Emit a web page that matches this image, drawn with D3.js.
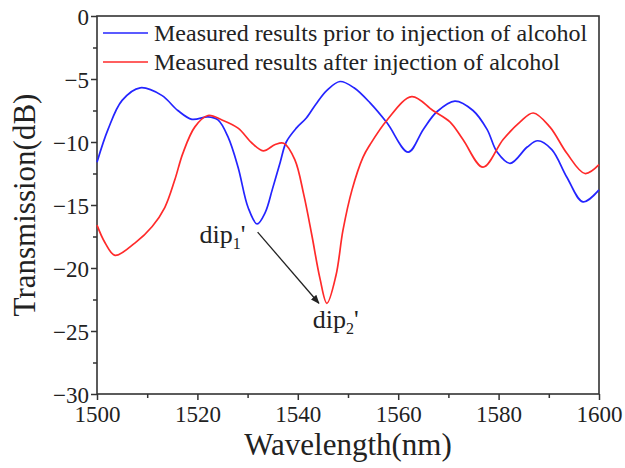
<!DOCTYPE html>
<html>
<head>
<meta charset="utf-8">
<script src="https://cdn.jsdelivr.net/npm/d3@7"></script>
<style>
  html, body { margin: 0; padding: 0; background: #fff; }
  svg text { font-family: "Liberation Serif", "Times New Roman", serif; fill: #222; }
</style>
</head>
<body>
<svg id="chart" width="625" height="468"></svg>
<script>
// ---- data ----
const seriesNames = [
  "Measured results prior to injection of alcohol",
  "Measured results after injection of alcohol"
];
const seriesColors = ["#2424ff", "#ff2a2a"];

const priorWl = [1500, 1502.2, 1505.0, 1508.6, 1512.9, 1516.1, 1518.9, 1522.1, 1524.1, 1526.1, 1528.1, 1530.1, 1531.9, 1533.5, 1534.9, 1536.5, 1537.7, 1539.7, 1541.7, 1543.6, 1545.8, 1548.4, 1551.2, 1554.4, 1557.8, 1562.0, 1565.0, 1567.7, 1571.3, 1574.9, 1577.7, 1579.7, 1582.3, 1585.7, 1587.8, 1590.6, 1593.6, 1596.8, 1600];
const priorDb = [-11.6, -9.0, -6.7, -5.7, -6.3, -7.5, -8.2, -8.0, -8.25, -9.6, -12.0, -15.2, -16.5, -15.6, -13.8, -11.6, -10.0, -8.9, -8.1, -7.0, -5.9, -5.2, -5.7, -6.9, -8.5, -10.8, -9.0, -7.6, -6.75, -7.5, -9.0, -10.8, -11.7, -10.4, -9.9, -10.6, -12.8, -14.75, -13.8];

const afterWl = [1500, 1501.6, 1503.6, 1507.6, 1511.0, 1513.5, 1515.5, 1517.1, 1519.5, 1522.1, 1524.9, 1528.1, 1530.9, 1533.1, 1535.5, 1537.2, 1539.4, 1541.2, 1542.8, 1544.4, 1545.8, 1547.6, 1549.0, 1550.8, 1553.0, 1554.4, 1557.8, 1562.7, 1566.9, 1570.3, 1572.9, 1576.9, 1580.9, 1584.3, 1586.9, 1590.2, 1593.6, 1597.2, 1600];
const afterDb = [-16.6, -18.0, -19.0, -18.0, -16.7, -15.2, -13.0, -10.9, -8.8, -7.9, -8.25, -8.9, -10.1, -10.7, -10.2, -10.1, -11.4, -14.2, -17.4, -20.8, -22.8, -20.6, -17.0, -13.8, -11.2, -10.2, -8.25, -6.4, -7.5, -8.4, -9.8, -12.0, -9.8, -8.4, -7.7, -8.8, -10.9, -12.5, -11.8];

const xTicks = [1500, 1520, 1540, 1560, 1580, 1600];
const xMinorTicks = [1510, 1530, 1550, 1570, 1590];
const yTicks = [0, -5, -10, -15, -20, -25, -30];
const yMinorTicks = [-2.5, -7.5, -12.5, -17.5, -22.5, -27.5];

const annotations = [
  { main: "dip", sub: "1", wl: 1520.4, db: -18.0 },
  { main: "dip", sub: "2", wl: 1543.0, db: -24.8 }
];
const arrowFrom = [1532.0, -17.15];
const arrowTo = [1544.2, -22.8];

// ---- layout ----
const svg = d3.select("#chart");
const L = 97, R = 599, T = 16, B = 394;
const x = d3.scaleLinear().domain([1500, 1600]).range([L, R]);
const y = d3.scaleLinear().domain([-30, 0]).range([B, T]);

svg.append("defs").append("marker")
  .attr("id", "ah").attr("viewBox", "0 0 10 10")
  .attr("refX", 9).attr("refY", 5)
  .attr("markerWidth", 9).attr("markerHeight", 9)
  .attr("markerUnits", "userSpaceOnUse")
  .attr("orient", "auto")
  .append("path").attr("d", "M0,1 L10,5 L0,9 Z").attr("fill", "#222");

// axes
const xAxis = svg.append("g").attr("transform", `translate(0,${B})`)
  .call(d3.axisBottom(x).tickValues(xTicks).tickFormat(d3.format("d")).tickSize(6).tickSizeOuter(0).tickPadding(4));
const xMinor = svg.append("g").attr("transform", `translate(0,${B})`)
  .call(d3.axisBottom(x).tickValues(xMinorTicks).tickFormat("").tickSize(4).tickSizeOuter(0));
const yAxis = svg.append("g").attr("transform", `translate(${L},0)`)
  .call(d3.axisLeft(y).tickValues(yTicks).tickFormat(d3.format("d")).tickSize(6).tickSizeOuter(0).tickPadding(2));
const yMinor = svg.append("g").attr("transform", `translate(${L},0)`)
  .call(d3.axisLeft(y).tickValues(yMinorTicks).tickFormat("").tickSize(4).tickSizeOuter(0));

[xAxis, xMinor, yAxis, yMinor].forEach(g => {
  g.select(".domain").remove();
  g.selectAll("line").attr("stroke", "#333").attr("stroke-width", 1.5);
  g.selectAll("text").attr("font-size", 23).attr("fill", "#222")
    .attr("font-family", '"Liberation Serif", "Times New Roman", serif');
});
xAxis.selectAll("text").attr("dy", "0.78em");
yAxis.selectAll("text").attr("dy", "0.35em");

// frame
svg.append("rect").attr("x", L).attr("y", T).attr("width", R - L).attr("height", B - T)
  .attr("fill", "none").attr("stroke", "#333").attr("stroke-width", 1.6);

// lines
const line = d3.line().x(d => x(d[0])).y(d => y(d[1])).curve(d3.curveCatmullRom.alpha(0.5));
const prior = priorWl.map((w, i) => [w, priorDb[i]]);
const after = afterWl.map((w, i) => [w, afterDb[i]]);
svg.append("path").datum(prior).attr("d", line).attr("fill", "none")
  .attr("stroke", seriesColors[0]).attr("stroke-width", 1.7);
svg.append("path").datum(after).attr("d", line).attr("fill", "none")
  .attr("stroke", seriesColors[1]).attr("stroke-width", 1.7);

// legend
seriesNames.forEach((name, i) => {
  const ly = 33 + i * 29;
  svg.append("line").attr("x1", 103).attr("x2", 148).attr("y1", ly).attr("y2", ly)
    .attr("stroke", seriesColors[i]).attr("stroke-width", 1.7);
  svg.append("text").attr("x", 154).attr("y", ly + 8).attr("font-size", 24).text(name);
});

// annotations
annotations.forEach(a => {
  const t = svg.append("text").attr("x", x(a.wl)).attr("y", y(a.db)).attr("font-size", 26);
  t.append("tspan").text(a.main);
  t.append("tspan").attr("font-size", 16).attr("dy", 6).text(a.sub);
  t.append("tspan").attr("dy", -6).text("'");
});
svg.append("line")
  .attr("x1", x(arrowFrom[0])).attr("y1", y(arrowFrom[1]))
  .attr("x2", x(arrowTo[0])).attr("y2", y(arrowTo[1]))
  .attr("stroke", "#222").attr("stroke-width", 1.3).attr("marker-end", "url(#ah)");

// axis titles
svg.append("text").attr("x", (L + R) / 2).attr("y", 455).attr("text-anchor", "middle")
  .attr("font-size", 31).text("Wavelength(nm)");
svg.append("text").attr("transform", `translate(35,${(T + B) / 2}) rotate(-90)`)
  .attr("text-anchor", "middle").attr("font-size", 31).text("Transmission(dB)");
</script>
</body>
</html>
